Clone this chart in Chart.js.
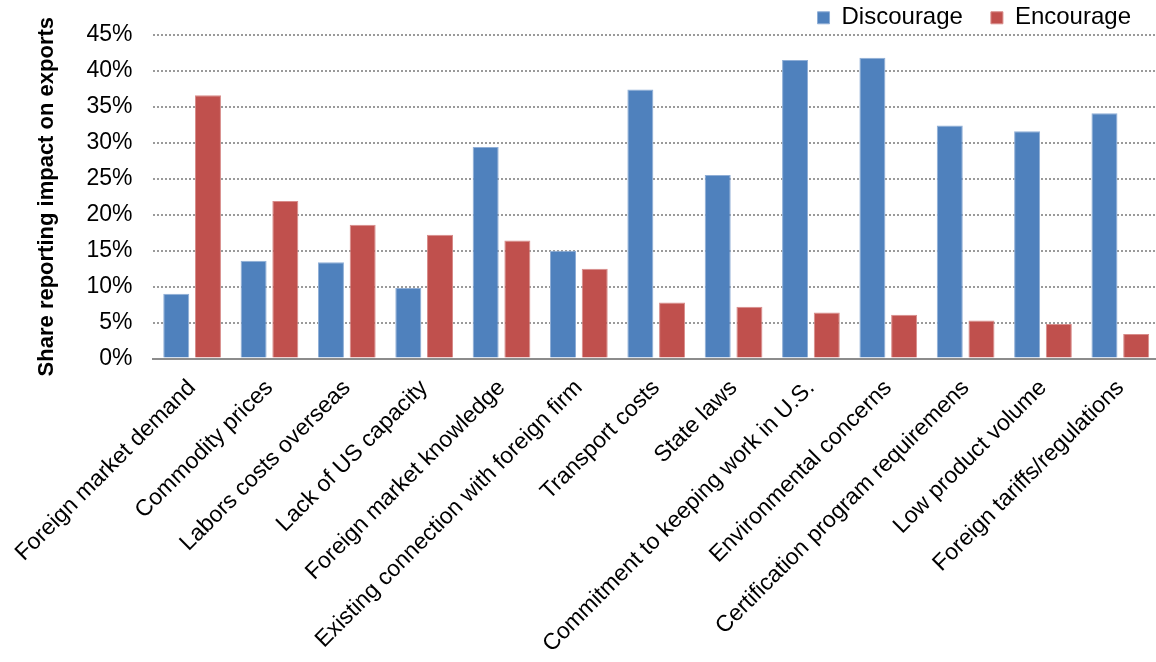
<!DOCTYPE html>
<html>
<head>
<meta charset="utf-8">
<script src="https://cdn.jsdelivr.net/npm/chart.js@4/dist/chart.umd.min.js"></script>
<style>
  html, body { margin: 0; padding: 0; background: #fff; overflow: hidden; }
  #wrap { width: 1160px; height: 662px; position: relative; }
</style>
</head>
<body>
<div id="wrap"><canvas id="c"></canvas></div>
<script>
const categories = [
  'Foreign market demand',
  'Commodity prices',
  'Labors costs overseas',
  'Lack of US capacity',
  'Foreign market knowledge',
  'Existing connection with foreign firm',
  'Transport costs',
  'State laws',
  'Commitment to keeping work in U.S.',
  'Environmental concerns',
  'Certification program requiremens',
  'Low product volume',
  'Foreign tariffs/regulations'
];
const seriesNames = ['Discourage', 'Encourage'];
const discourage = [9.0, 13.6, 13.4, 9.8, 29.4, 15.0, 37.4, 25.5, 41.5, 41.8, 32.4, 31.6, 34.1];
const encourage  = [36.6, 21.9, 18.6, 17.2, 16.4, 12.5, 7.8, 7.2, 6.4, 6.1, 5.3, 4.8, 3.4];
const yMin = 0, yMax = 45, yStep = 5;
const yTitle = 'Share reporting impact on exports';

const FONT = "'Liberation Sans', Arial, sans-serif";
const noPad = () => ({ left: 0, top: 0, right: 0, bottom: 0 });

new Chart(document.getElementById('c'), {
  type: 'bar',
  data: {
    labels: categories,
    datasets: [
      { label: seriesNames[0], data: discourage, backgroundColor: '#4F81BD', borderColor: '#8FAED6', borderWidth: 1,
        barPercentage: 0.82, categoryPercentage: 0.82 },
      { label: seriesNames[1], data: encourage, backgroundColor: '#C0504D', borderColor: '#D88C8A', borderWidth: 1,
        barPercentage: 0.82, categoryPercentage: 0.82 }
    ]
  },
  options: {
    responsive: true,
    maintainAspectRatio: false,
    animation: false,
    layout: { padding: { left: 34, right: 1, top: -24, bottom: -12 } },
    plugins: {
      tooltip: { enabled: false },
      legend: {
        position: 'top',
        align: 'end',
        maxHeight: 57,
        labels: {
          font: { family: FONT, size: 24 },
          color: '#000',
          boxWidth: 12,
          boxHeight: 12,
          padding: 28
        }
      }
    },
    scales: {
      x: {
        grid: { display: false, drawTicks: false },
        border: { display: true, color: '#8C8C8C', width: 2 },
        ticks: {
          autoSkip: false,
          minRotation: 45,
          maxRotation: 45,
          padding: 16,
          color: '#000',
          font: { family: FONT, size: 23 }
        },
        afterFit(scale) { scale.paddingLeft = 0; scale.paddingRight = 0; scale.getPadding = noPad; }
      },
      y: {
        min: yMin,
        max: yMax,
        border: { display: false, dash: [2, 2] },
        grid: {
          color: '#9A9A9A',
          lineWidth: 2,
          drawTicks: false
        },
        ticks: {
          stepSize: yStep,
          padding: 21,
          color: '#000',
          font: { family: FONT, size: 23 },
          callback: v => v + '%'
        },
        title: {
          display: true,
          text: yTitle,
          color: '#000',
          font: { family: FONT, size: 22, weight: 'bold' },
          padding: { top: 0, bottom: 5 }
        }
      }
    }
  }
});
</script>
</body>
</html>
